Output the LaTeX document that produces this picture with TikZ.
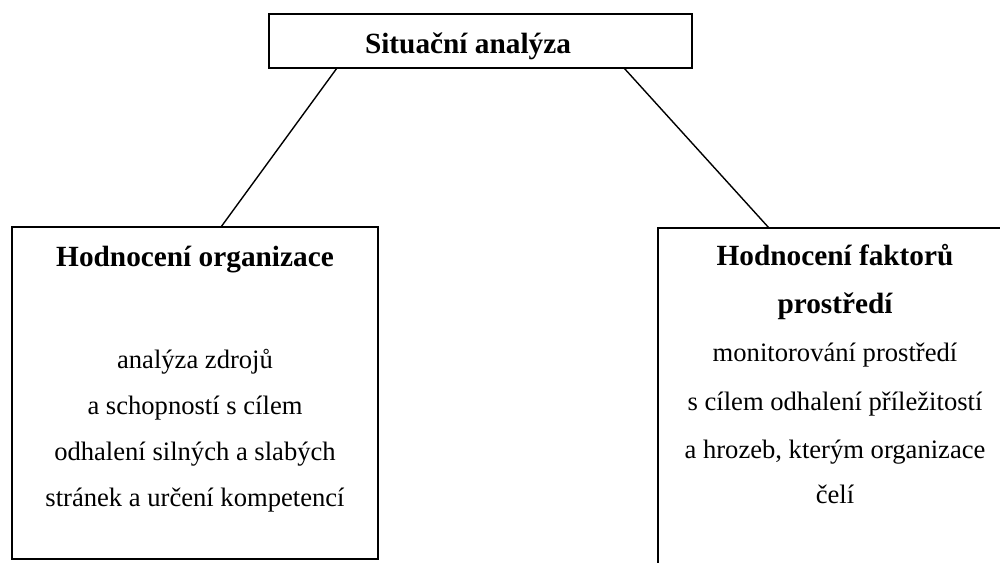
\documentclass[tikz,border=0pt]{standalone}
\usepackage{fontspec}
\setmainfont{Liberation Serif}
\begin{document}
\begin{tikzpicture}[x=1pt,y=-1pt,
  boxstyle/.style={draw=black,line width=1.4pt,inner sep=0pt,outer sep=0pt,fill=white},
  titletext/.style={anchor=base,inner sep=0pt,font=\fontsize{29.3}{46}\selectfont\bfseries},
  bodytext/.style={anchor=base,inner sep=0pt,font=\fontsize{26.6}{46}\selectfont},
  linkstyle/.style={draw=black,line width=1.4pt}]
\clip (0,0) rectangle (1000,562);
\fill[white] (0,0) rectangle (1000,562);
% boxes
\node[boxstyle,minimum width=423pt,minimum height=54pt] (top) at (480.5,41) {};
\node[boxstyle,minimum width=366pt,minimum height=332pt] (left) at (195,393) {};
\node[boxstyle,minimum width=354pt,minimum height=380pt] (right) at (835,418) {};
% connectors
\draw[linkstyle] ([xshift=-143.5pt]top.south) -- ([xshift=26pt]left.north);
\draw[linkstyle] ([xshift=143.5pt]top.south) -- ([xshift=-66pt]right.north);
% texts
\node[titletext] (t0) at (468,53) {Situační analýza};
\node[titletext] (l0) at (195,266) {Hodnocení organizace};
\node[bodytext] (l1) at (195,368) {analýza zdrojů};
\node[bodytext] (l2) at (195,414) {a schopností s cílem};
\node[bodytext] (l3) at (195,460) {odhalení silných a slabých};
\node[bodytext] (l4) at (195,506) {stránek a určení kompetencí};
\node[titletext] (r0) at (835,265) {Hodnocení faktorů};
\node[titletext] (r1) at (835,313) {prostředí};
\node[bodytext] (r2) at (835,361) {monitorování prostředí};
\node[bodytext] (r3) at (835,410) {s cílem odhalení příležitostí};
\node[bodytext] (r4) at (835,458) {a hrozeb, kterým organizace};
\node[bodytext] (r5) at (835,503) {čelí};
\end{tikzpicture}
\end{document}
